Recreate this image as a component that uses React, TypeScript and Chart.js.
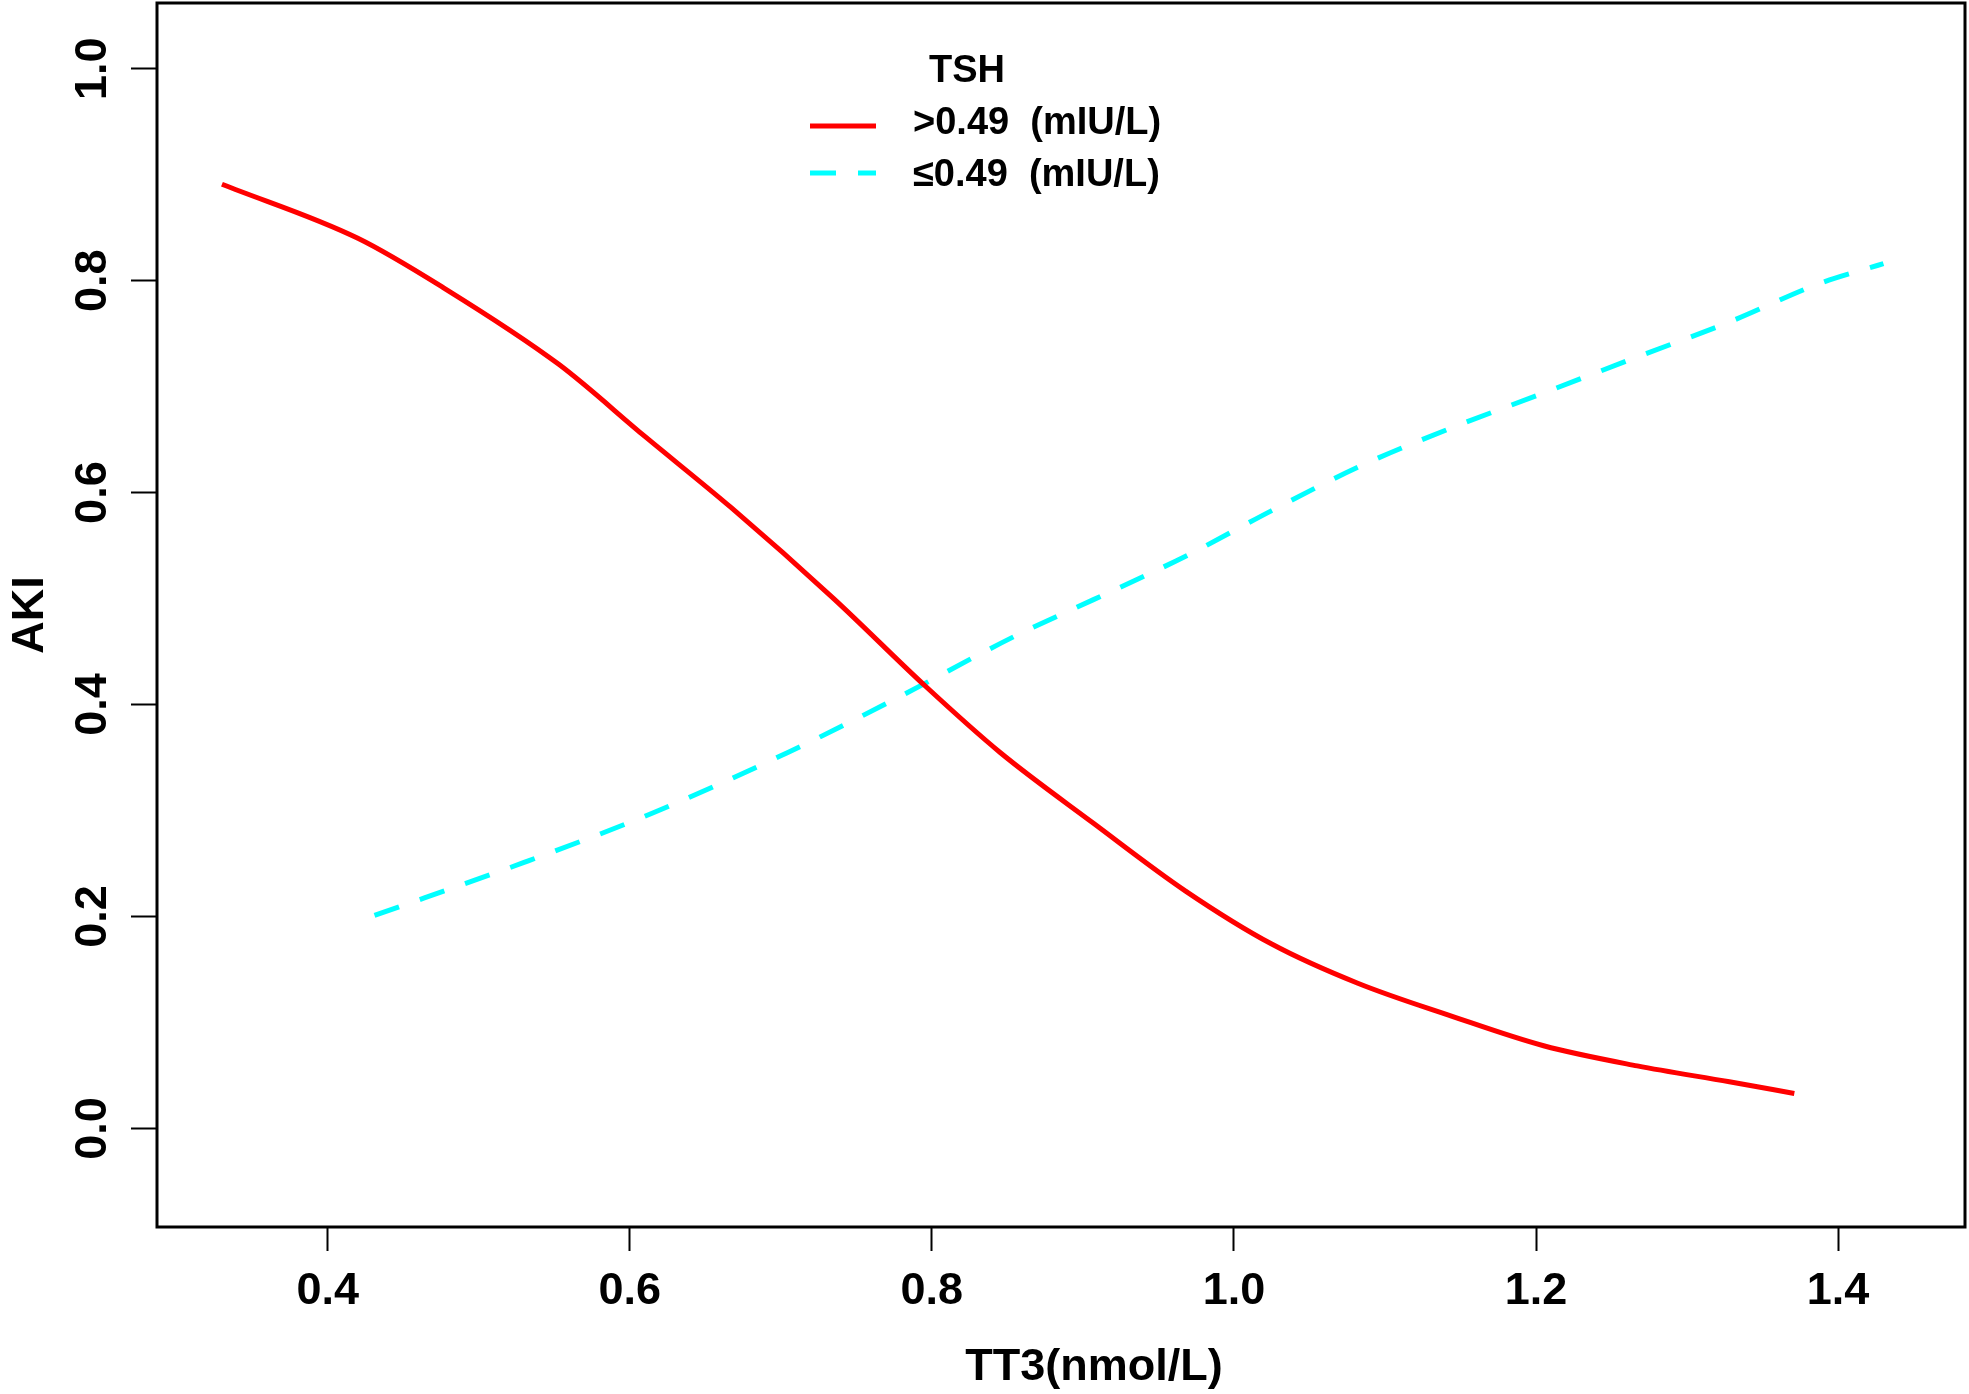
import React, { useRef, useEffect } from "react";
import { Chart, registerables } from "chart.js";

Chart.register(...registerables);

// TSH > 0.49 mIU/L (solid red)
const highTT3 = [0.33, 0.42, 0.477, 0.553, 0.61, 0.667, 0.735, 0.796, 0.845, 0.907, 0.968, 1.025, 1.082, 1.144, 1.205, 1.267, 1.328, 1.371];
const highAKI = [0.891, 0.84, 0.793, 0.721, 0.653, 0.586, 0.5, 0.417, 0.355, 0.288, 0.224, 0.174, 0.137, 0.106, 0.078, 0.059, 0.044, 0.033];

// TSH <= 0.49 mIU/L (dashed cyan)
const lowTT3 = [0.431, 0.53, 0.614, 0.705, 0.77, 0.857, 0.907, 0.968, 1.025, 1.082, 1.144, 1.205, 1.267, 1.328, 1.389, 1.43];
const lowAKI = [0.201, 0.251, 0.297, 0.355, 0.401, 0.466, 0.499, 0.54, 0.583, 0.624, 0.661, 0.694, 0.728, 0.761, 0.798, 0.816];

const xTicks = [0.4, 0.6, 0.8, 1.0, 1.2, 1.4];
const yTicks = [0.0, 0.2, 0.4, 0.6, 0.8, 1.0];

const legendTitle = "TSH";
const legendLabels = [">0.49  (mIU/L)", "\u22640.49  (mIU/L)"];
const xTitle = "TT3(nmol/L)";
const yTitle = "AKI";

const FONT = "'Liberation Sans', Arial, sans-serif";

const rPlot = {
  id: "rPlot",
  afterDraw(chart: any) {
    const { ctx, chartArea, scales } = chart;
    ctx.save();
    // box around plot
    ctx.strokeStyle = "#000";
    ctx.lineWidth = 3;
    ctx.strokeRect(chartArea.left, chartArea.top, chartArea.right - chartArea.left, chartArea.bottom - chartArea.top);

    ctx.fillStyle = "#000";
    ctx.font = `bold 45px ${FONT}`;
    ctx.textAlign = "center";
    ctx.textBaseline = "middle";
    // rotated y tick labels
    yTicks.forEach((v) => {
      const y = scales.y.getPixelForValue(v);
      ctx.save();
      ctx.translate(94, y);
      ctx.rotate(-Math.PI / 2);
      ctx.fillText(v.toFixed(1), 0, 0);
      ctx.restore();
    });
    // axis titles
    ctx.save();
    ctx.translate(31, (chartArea.top + chartArea.bottom) / 2);
    ctx.rotate(-Math.PI / 2);
    ctx.fillText(yTitle, 0, 0);
    ctx.restore();
    ctx.fillText(xTitle, 1094, 1368);

    // legend
    ctx.font = `bold 38px ${FONT}`;
    ctx.fillText(legendTitle, 967, 72);
    ctx.textAlign = "left";
    const rows = [126, 173];
    const textRows = [124, 176];
    chart.data.datasets.forEach((ds: any, i: number) => {
      ctx.save();
      ctx.strokeStyle = ds.borderColor;
      ctx.lineWidth = ds.borderWidth;
      ctx.setLineDash(ds.borderDash || []);
      ctx.beginPath();
      ctx.moveTo(810, rows[i]);
      ctx.lineTo(876, rows[i]);
      ctx.stroke();
      ctx.restore();
      ctx.fillText(legendLabels[i], 913, textRows[i]);
    });
    ctx.restore();
  },
};

export default function App() {
  const canvasRef = useRef<HTMLCanvasElement>(null);

  useEffect(() => {
    document.body.style.margin = "0";
    const canvas = canvasRef.current;
    if (!canvas) return;

    const chart = new Chart(canvas, {
      type: "line",
      data: {
        datasets: [
          {
            label: legendLabels[0],
            data: highTT3.map((x, i) => ({ x, y: highAKI[i] })),
            borderColor: "#ff0000",
            borderWidth: 5,
            pointRadius: 0,
            cubicInterpolationMode: "monotone",
            fill: false,
          },
          {
            label: legendLabels[1],
            data: lowTT3.map((x, i) => ({ x, y: lowAKI[i] })),
            borderColor: "#00ffff",
            borderWidth: 5,
            borderDash: [26, 22],
            pointRadius: 0,
            cubicInterpolationMode: "monotone",
            fill: false,
          },
        ],
      },
      options: {
        animation: false,
        responsive: false,
        maintainAspectRatio: false,
        devicePixelRatio: 1,
        layout: { padding: { top: 3, right: 4, left: 0, bottom: 0 } },
        plugins: {
          legend: { display: false },
          tooltip: { enabled: false },
          title: { display: false },
        },
        scales: {
          x: {
            type: "linear",
            min: 0.287,
            max: 1.484,
            afterBuildTicks: (scale: any) => {
              scale.ticks = xTicks.map((value) => ({ value }));
            },
            afterFit: (scale: any) => {
              scale.height = 167;
            },
            grid: {
              drawOnChartArea: false,
              drawTicks: true,
              tickLength: 24,
              tickColor: "#000",
              tickWidth: 2,
            },
            border: { display: false },
            ticks: {
              color: "#000",
              font: { family: FONT, size: 45, weight: "bold" },
              padding: 14,
              maxRotation: 0,
              autoSkip: false,
              callback: (v: any) => Number(v).toFixed(1),
            },
          },
          y: {
            type: "linear",
            min: -0.093,
            max: 1.062,
            afterBuildTicks: (scale: any) => {
              scale.ticks = yTicks.map((value) => ({ value }));
            },
            afterFit: (scale: any) => {
              scale.width = 157;
            },
            grid: {
              drawOnChartArea: false,
              drawTicks: true,
              tickLength: 26,
              tickColor: "#000",
              tickWidth: 2,
            },
            border: { display: false },
            ticks: { display: false },
          },
        },
      },
      plugins: [rPlot],
    });

    return () => chart.destroy();
  }, []);

  return (
    <div style={{ width: 1969, height: 1394, background: "#fff" }}>
      <canvas ref={canvasRef} width={1969} height={1394} style={{ display: "block" }} />
    </div>
  );
}
